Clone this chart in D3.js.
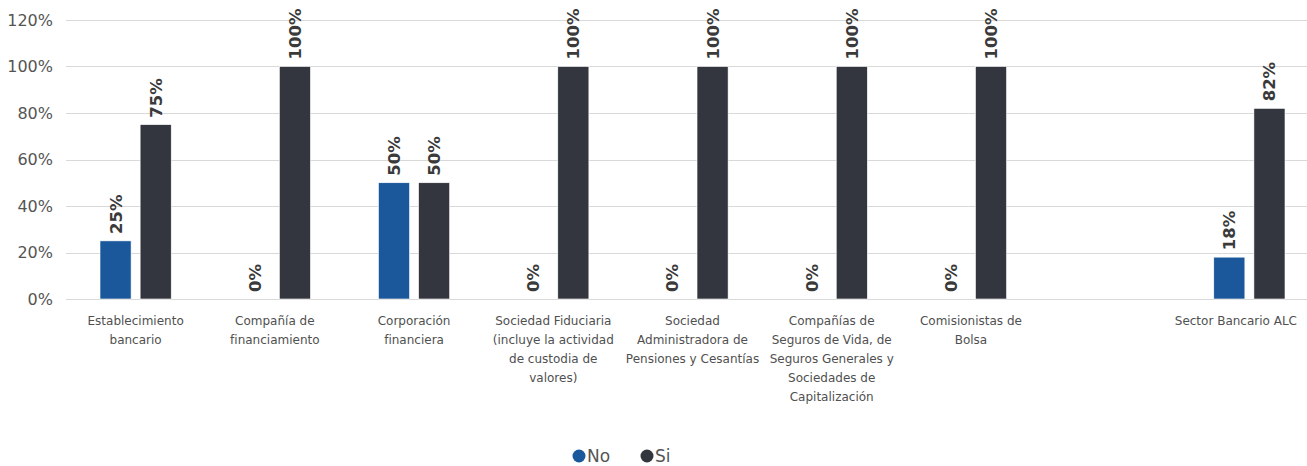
<!DOCTYPE html>
<html lang="es">
  <head>
    <meta charset="UTF-8" />
    <title>No / Si por tipo de entidad</title>
    <script src="https://d3js.org/d3.v7.min.js"></script>
    <style>
      body {
        margin: 0;
        background: #fff;
        font-family: "DejaVu Sans", Arial, sans-serif;
      }
    </style>
  </head>
  <body>
    <div id="chart"></div>
    <script>
      // categories (line breaks as shown in the original), one empty slot before ALC
      const categories = [
        "Establecimiento\nbancario",
        "Compañía de\nfinanciamiento",
        "Corporación\nfinanciera",
        "Sociedad Fiduciaria\n(incluye la actividad\nde custodia de\nvalores)",
        "Sociedad\nAdministradora de\nPensiones y Cesantías",
        "Compañías de\nSeguros de Vida, de\nSeguros Generales y\nSociedades de\nCapitalización",
        "Comisionistas de\nBolsa",
        "",
        "Sector Bancario ALC",
      ];
      const seriesNames = ["No", "Si"];
      const noValues = [0.25, 0, 0.5, 0, 0, 0, 0, null, 0.18];
      const siValues = [0.75, 1, 0.5, 1, 1, 1, 1, null, 0.82];
      const yTicks = [0, 0.2, 0.4, 0.6, 0.8, 1.0, 1.2];
      const colors = { No: "#1a579b", Si: "#33363e" };

      const width = 1307;
      const height = 466;

      const svg = d3
        .select("#chart")
        .append("svg")
        .attr("width", width)
        .attr("height", height);

      const x0 = d3.scaleBand().domain(d3.range(categories.length)).range([66, 1319]);
      const x1 = d3
        .scaleBand()
        .domain(seriesNames)
        .range([34, x0.bandwidth() - 34])
        .paddingInner(0.225);
      const y = d3.scaleLinear().domain([0, 1.2]).range([299, 20]);

      // gridlines
      svg
        .append("g")
        .selectAll("line")
        .data(yTicks)
        .join("line")
        .attr("x1", 66)
        .attr("x2", 1319)
        .attr("y1", (d) => Math.round(y(d)) + 0.5)
        .attr("y2", (d) => Math.round(y(d)) + 0.5)
        .attr("stroke", "#d9d9d9");

      // y axis labels
      const yAxis = svg
        .append("g")
        .attr("transform", "translate(53,0)")
        .call(d3.axisLeft(y).tickValues(yTicks).tickFormat(d3.format(".0%")).tickSize(0).tickPadding(0));
      yAxis.select(".domain").remove();
      yAxis
        .selectAll("text")
        .attr("fill", "#555")
        .style("font-size", "16px")
        .style("font-family", "DejaVu Sans, sans-serif");

      // bars
      const rows = categories.map((c, i) => ({ i, No: noValues[i], Si: siValues[i] }));
      const groups = svg
        .append("g")
        .selectAll("g")
        .data(rows)
        .join("g")
        .attr("transform", (d) => `translate(${x0(d.i)},0)`);

      const cells = groups
        .selectAll("g")
        .data((d) => seriesNames.map((k) => ({ key: k, value: d[k] })).filter((e) => e.value !== null))
        .join("g");

      cells
        .append("rect")
        .attr("x", (d) => x1(d.key))
        .attr("width", x1.bandwidth())
        .attr("y", (d) => y(d.value))
        .attr("height", (d) => y(0) - y(d.value))
        .attr("fill", (d) => colors[d.key])
        .attr("stroke", "#fff")
        .attr("stroke-width", 0.6);

      // rotated value labels
      cells
        .append("text")
        .attr(
          "transform",
          (d) => `translate(${x1(d.key) + x1.bandwidth() / 2 + 6},${y(d.value) - 7}) rotate(-90)`
        )
        .attr("text-anchor", "start")
        .attr("fill", "#3a3a3a")
        .style("font-size", "16.5px")
        .style("font-weight", "bold")
        .text((d) => d3.format(".0%")(d.value));

      // category labels
      const catLabels = svg
        .append("g")
        .selectAll("text")
        .data(categories)
        .join("text")
        .attr("x", (d, i) => x0(i) + x0.bandwidth() / 2)
        .attr("y", 325)
        .attr("text-anchor", "middle")
        .attr("fill", "#505050")
        .style("font-size", "12px");
      catLabels
        .selectAll("tspan")
        .data((d) => (d ? d.split("\n") : []))
        .join("tspan")
        .attr("x", function () {
          return this.parentNode.getAttribute("x");
        })
        .attr("dy", (d, i) => (i === 0 ? 0 : 19))
        .text((d) => d);

      // keep labels inside the drawing area on the right
      catLabels.each(function () {
        const box = this.getBBox();
        const over = box.x + box.width - (width - 10);
        if (over > 0) {
          const nx = +this.getAttribute("x") - over;
          d3.select(this).attr("x", nx).selectAll("tspan").attr("x", nx);
        }
      });

      // legend
      const legend = svg
        .append("g")
        .selectAll("g")
        .data(seriesNames)
        .join("g")
        .attr("transform", (d, i) => `translate(${579 + i * 68},456)`);
      legend
        .append("circle")
        .attr("r", 6.5)
        .attr("fill", (d) => colors[d]);
      legend
        .append("text")
        .attr("x", 8)
        .attr("y", 6)
        .attr("fill", "#555")
        .style("font-size", "17px")
        .text((d) => d);
    </script>
  </body>
</html>
